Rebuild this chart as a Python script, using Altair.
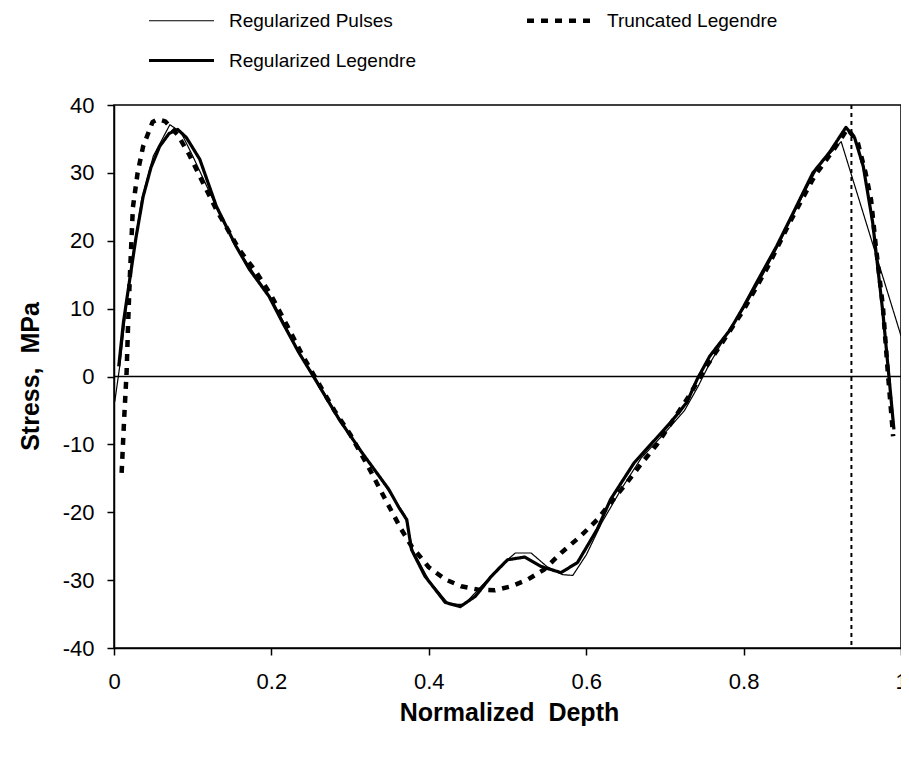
import altair as alt
import pandas as pd

# ---- data ----
series_names = ["Regularized Pulses", "Truncated Legendre", "Regularized Legendre"]

trunc_x = [0.0097, 0.013, 0.016, 0.018, 0.020, 0.024, 0.030, 0.037, 0.049, 0.056, 0.065, 0.081,
           0.095, 0.109, 0.130, 0.159, 0.180, 0.199, 0.220, 0.240, 0.260, 0.280, 0.300, 0.324,
           0.347, 0.365, 0.378, 0.400, 0.421, 0.441, 0.463, 0.484, 0.505, 0.526, 0.547, 0.568,
           0.593, 0.614, 0.631, 0.650, 0.669, 0.690, 0.710, 0.730, 0.750, 0.770, 0.800, 0.830,
           0.860, 0.890, 0.915, 0.932, 0.945, 0.955, 0.962, 0.968, 0.977, 0.983, 0.990]
trunc_y = [-14.2, -6.0, 0.6, 8.0, 14.3, 24.9, 30.0, 33.9, 37.5, 37.9, 37.6, 35.6,
           32.8, 29.5, 24.6, 18.7, 15.5, 12.1, 7.5, 3.0, -1.0, -5.0, -8.5, -13.5,
           -18.6, -22.5, -25.0, -28.1, -29.9, -30.9, -31.4, -31.5, -30.9, -29.9, -28.4, -26.0,
           -23.5, -21.1, -18.6, -15.9, -13.0, -10.0, -6.5, -3.0, 1.0, 4.5, 9.8, 16.0,
           23.0, 29.5, 33.5, 36.5, 34.5, 30.0, 26.0, 19.2, 10.3, 1.0, -8.8]

legendre_x = [0.006, 0.012, 0.020, 0.028, 0.037, 0.047, 0.058, 0.070, 0.081, 0.092, 0.109,
              0.130, 0.155, 0.172, 0.197, 0.214, 0.235, 0.254, 0.286, 0.315, 0.349, 0.362,
              0.372, 0.378, 0.395, 0.421, 0.440, 0.459, 0.479, 0.500, 0.522, 0.543, 0.568,
              0.589, 0.614, 0.631, 0.661, 0.707, 0.728, 0.741, 0.757, 0.783, 0.800, 0.814,
              0.842, 0.863, 0.888, 0.909, 0.930, 0.941, 0.952, 0.964, 0.977, 0.985, 0.991]
legendre_y = [1.5, 8.0, 14.3, 20.5, 26.5, 30.8, 33.9, 35.8, 36.4, 35.2, 32.0,
              25.1, 19.2, 15.8, 11.8, 8.0, 3.5, -0.1, -6.3, -11.2, -16.6, -19.3,
              -21.1, -25.5, -29.4, -33.3, -33.9, -32.4, -29.5, -27.0, -26.6, -28.0, -28.9,
              -27.4, -22.5, -18.1, -12.7, -6.8, -3.8, -0.4, 3.0, 6.9, 10.3, 13.3,
              19.2, 24.1, 30.0, 33.0, 36.7, 35.2, 31.0, 22.7, 9.4, -0.4, -7.8]

pulses_x = [0.001, 0.008, 0.020, 0.035, 0.050, 0.071, 0.085, 0.100, 0.120, 0.140, 0.160,
            0.180, 0.200, 0.220, 0.240, 0.256, 0.280, 0.310, 0.340, 0.370, 0.380, 0.400,
            0.425, 0.445, 0.470, 0.490, 0.510, 0.530, 0.550, 0.570, 0.583, 0.600, 0.620,
            0.645, 0.670, 0.700, 0.725, 0.742, 0.755, 0.780, 0.800, 0.820, 0.845, 0.870,
            0.895, 0.924, 1.000]
pulses_y = [-3.7, 2.1, 15.0, 26.0, 32.5, 37.1, 36.0, 32.5, 27.5, 22.5, 18.3,
            14.8, 11.5, 7.0, 2.5, -0.2, -5.0, -10.5, -15.3, -20.5, -25.7, -30.0,
            -33.5, -33.6, -30.5, -28.0, -26.0, -26.0, -28.0, -29.2, -29.3, -26.3, -21.5,
            -16.5, -12.0, -8.3, -5.0, -1.5, 1.5, 6.5, 10.0, 14.0, 19.5, 25.5,
            31.0, 34.6, 6.0]

marker_depth = [0.937]
zero_stress = [0]

# ---- table ----
rows = []
for name, xs, ys in [("Truncated Legendre", trunc_x, trunc_y),
                     ("Regularized Legendre", legendre_x, legendre_y),
                     ("Regularized Pulses", pulses_x, pulses_y)]:
    for a, b in zip(xs, ys):
        rows.append({"series": name, "depth": a, "stress": b})
df = pd.DataFrame(rows)

FONT = "Liberation Sans"
x_scale = alt.Scale(domain=[0, 1], nice=False, zero=False)
y_scale = alt.Scale(domain=[-40, 40], nice=False)

legend = alt.Legend(
    title=None, orient="none", legendX=58, legendY=-94, columns=2, direction="horizontal",
    values=series_names,
    symbolType="M-6.5,0H6.5", symbolSize=100, symbolStrokeColor="black",
    labelFont=FONT, labelFontSize=19, labelColor="black", labelOffset=38,
    labelLimit=400, columnPadding=102, rowPadding=20, padding=0,
)

x_axis = alt.Axis(
    title="Normalized\u00a0 Depth", values=[0, 0.2, 0.4, 0.6, 0.8, 1], format="~g",
    grid=False, domainColor="black", domainWidth=1.5, tickColor="black", tickWidth=1.5,
    tickSize=7, labelFont=FONT, labelFontSize=22, labelColor="black", labelPadding=16,
    labelFlush=False, labelOverlap=False,
    titleFont=FONT, titleFontSize=25, titleFontWeight="bold", titleColor="black",
    titleX=395, titleY=64, titleBaseline="middle",
)
y_axis = alt.Axis(
    title="Stress,\u00a0 MPa", values=list(range(-40, 41, 10)), labelExpr="datum.value",
    grid=False, domainColor="black", domainWidth=1.5, tickColor="black", tickWidth=1.5,
    tickSize=7, labelFont=FONT, labelFontSize=22, labelColor="black", labelPadding=13,
    labelFlush=False, labelOverlap=False,
    titleFont=FONT, titleFontSize=25, titleFontWeight="bold", titleColor="black",
    titleX=-84, titleY=271, titleBaseline="middle", titleAngle=-90,
)

zero_line = alt.Chart(pd.DataFrame({"stress": zero_stress})).mark_rule(
    color="black", strokeWidth=1.5
).encode(y=alt.Y("stress:Q", scale=y_scale, axis=y_axis))

lines = alt.Chart(df).mark_line(color="black", strokeJoin="round").encode(
    x=alt.X("depth:Q", scale=x_scale, axis=x_axis),
    y=alt.Y("stress:Q", scale=y_scale, axis=y_axis),
    strokeDash=alt.StrokeDash(
        "series:N",
        scale=alt.Scale(domain=series_names, range=[[1, 0], [7, 7], [1, 0]]),
        legend=legend,
    ),
    strokeWidth=alt.StrokeWidth(
        "series:N",
        scale=alt.Scale(type="ordinal", domain=series_names, range=[1.2, 4.5, 3.2]),
        legend=legend,
    ),
)

marker = alt.Chart(pd.DataFrame({"depth": marker_depth})).mark_rule(
    color="black", strokeWidth=2, strokeDash=[4, 4]
).encode(x=alt.X("depth:Q", scale=x_scale, axis=x_axis))

chart = alt.layer(zero_line, lines, marker).properties(
    width=787, height=543,
    background="white",
    autosize=alt.AutoSizeParams(type="none"),
    padding={"left": 106, "top": 97, "right": 0, "bottom": 100},
).configure_view(stroke="black", strokeWidth=1.5)

chart.save("out.html", embed_options={"renderer": "svg", "actions": False})
